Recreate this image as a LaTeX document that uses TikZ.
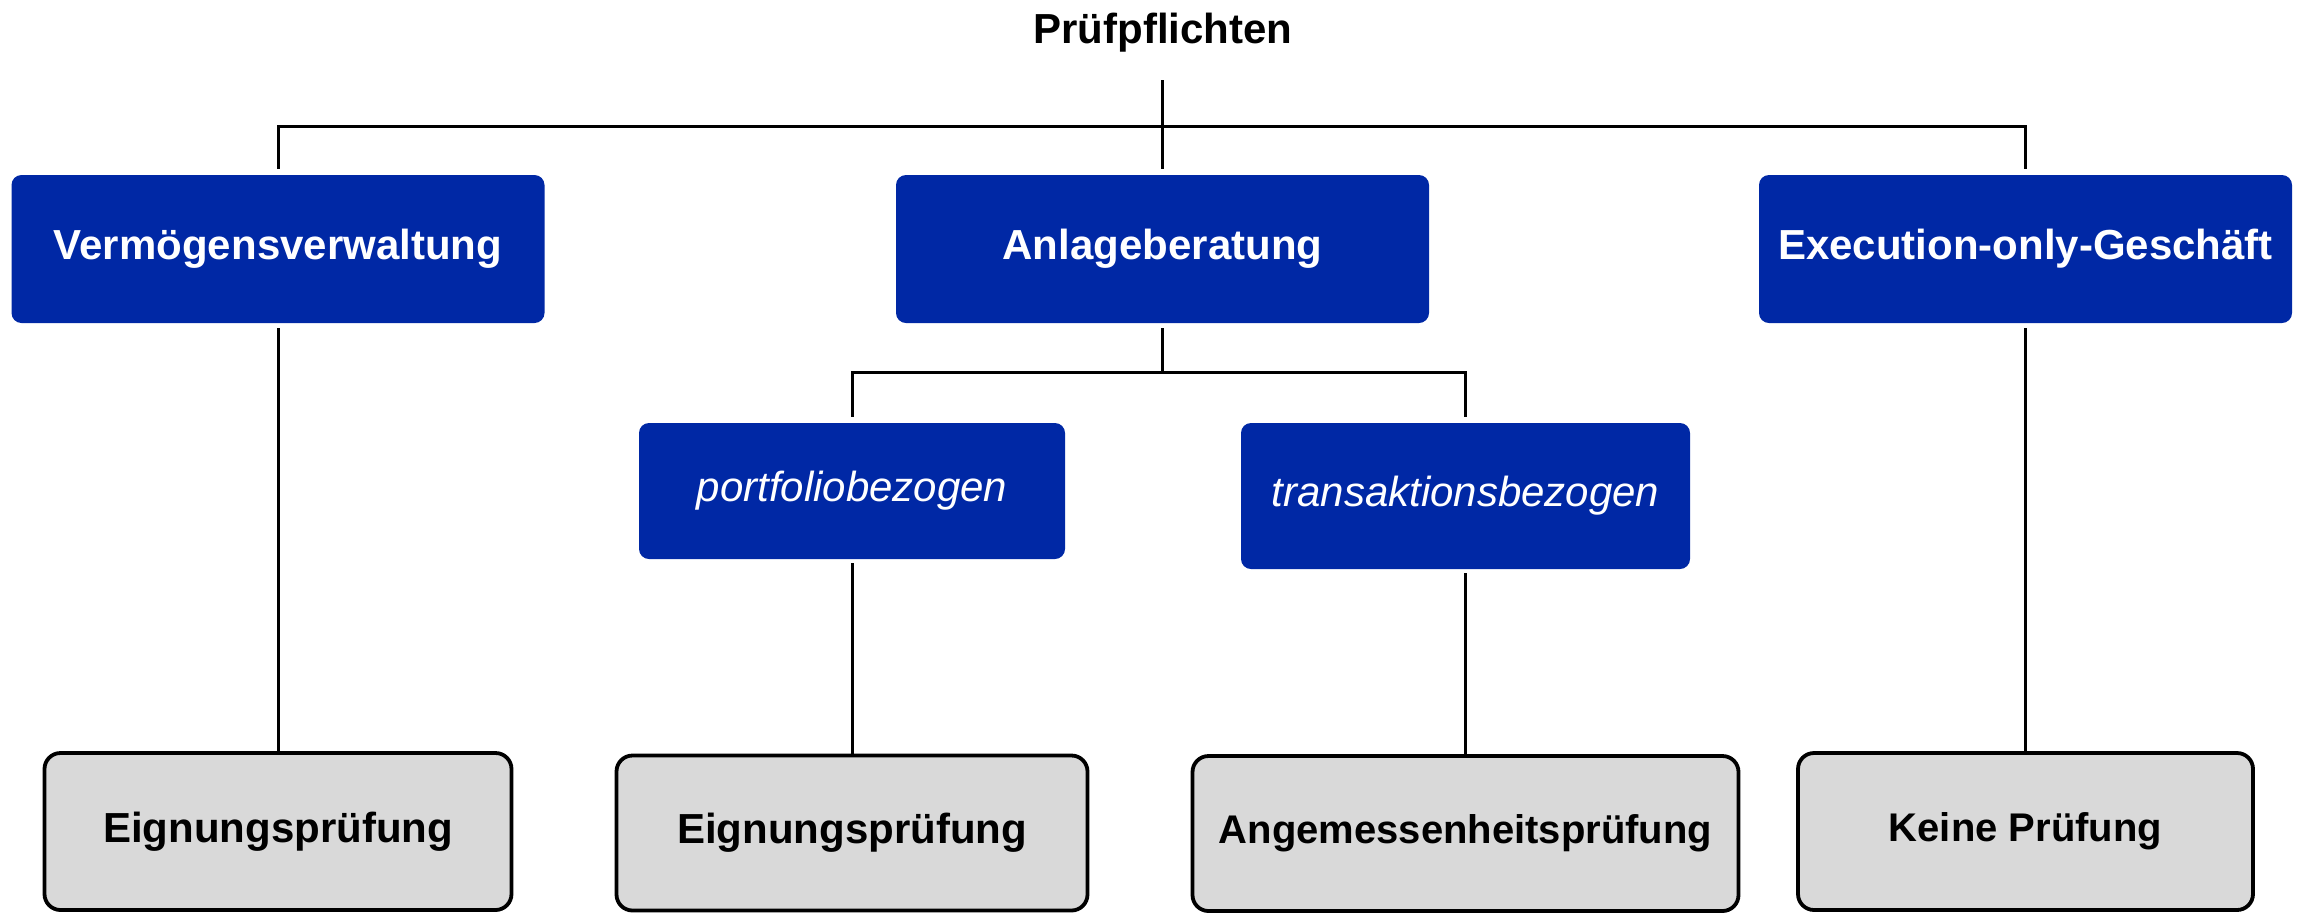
\documentclass[tikz,border=0pt]{standalone}
\usepackage{fontspec}
\setmainfont{Liberation Sans}
\definecolor{boxblue}{RGB}{0,40,165}
\definecolor{boxgray}{RGB}{217,217,217}
\begin{document}
\begin{tikzpicture}[x=0.5pt,y=-0.5pt,
  every node/.style={font=\fontsize{21}{25}\selectfont, inner sep=0pt},
  bluebox/.style={fill=boxblue, text=white, rounded corners=5pt, font=\fontsize{21}{25}\selectfont\bfseries},
  subbox/.style={fill=boxblue, text=white, rounded corners=5pt, font=\fontsize{21}{25}\selectfont\itshape},
  graybox/.style={fill=boxgray, draw=black, line width=1.9pt, rounded corners=8pt, font=\fontsize{21}{25}\selectfont\bfseries},
  smalltext/.style={font=\fontsize{20}{24}\selectfont\bfseries},
  conn/.style={line width=1.5pt, black}
]
\useasboundingbox (0,0) rectangle (2308,912);
\node[anchor=base, font=\fontsize{21}{25}\selectfont\bfseries] (title) at (1163,43) {Prüfpflichten};
\node[bluebox, minimum width=266.5pt, minimum height=74pt] (vv) at (278,249) {Vermögensverwaltung};
\node[bluebox, minimum width=266.5pt, minimum height=74pt] (ab) at (1162.5,249) {Anlageberatung};
\node[bluebox, minimum width=266.5pt, minimum height=74pt] (eo) at (2025.5,249) {Execution-only-Geschäft};
\node[subbox, minimum width=213pt, minimum height=68pt] (pf) at (852,491) {portfoliobezogen};
\node[subbox, minimum width=224.5pt, minimum height=73pt] (tb) at (1465.5,496) {transaktionsbezogen};
\node[graybox, minimum width=233.5pt, minimum height=78.5pt] (g1) at (278,831.5) {Eignungsprüfung};
\node[graybox, minimum width=235.5pt, minimum height=77.5pt] (g2) at (852,833) {Eignungsprüfung};
\node[graybox, smalltext, minimum width=273pt, minimum height=77.5pt] (g3) at (1465.5,833.5) {Angemessenheitsprüfung};
\node[graybox, smalltext, minimum width=227.5pt, minimum height=78.5pt] (g4) at (2025.5,831.5) {Keine Prüfung};
\coordinate (top) at (1162.5,80);
\coordinate (hub) at (1162.5,126);
\coordinate (hub2) at (1162.5,372);
\draw[conn] (top) -- (hub);
\draw[conn, shorten >=3pt] (hub) -| (vv);
\draw[conn, shorten >=3pt] (hub) -| (eo);
\draw[conn, shorten >=3pt] (hub) -- (ab);
\draw[conn, shorten <=2.5pt] (ab) -- (hub2);
\draw[conn, shorten >=3pt] (hub2) -| (pf);
\draw[conn, shorten >=3pt] (hub2) -| (tb);
\draw[conn, shorten <=2.5pt] (vv) -- (g1);
\draw[conn, shorten <=2pt] (pf) -- (g2);
\draw[conn, shorten <=2pt] (tb) -- (g3);
\draw[conn, shorten <=2.5pt] (eo) -- (g4);
\end{tikzpicture}
\end{document}
